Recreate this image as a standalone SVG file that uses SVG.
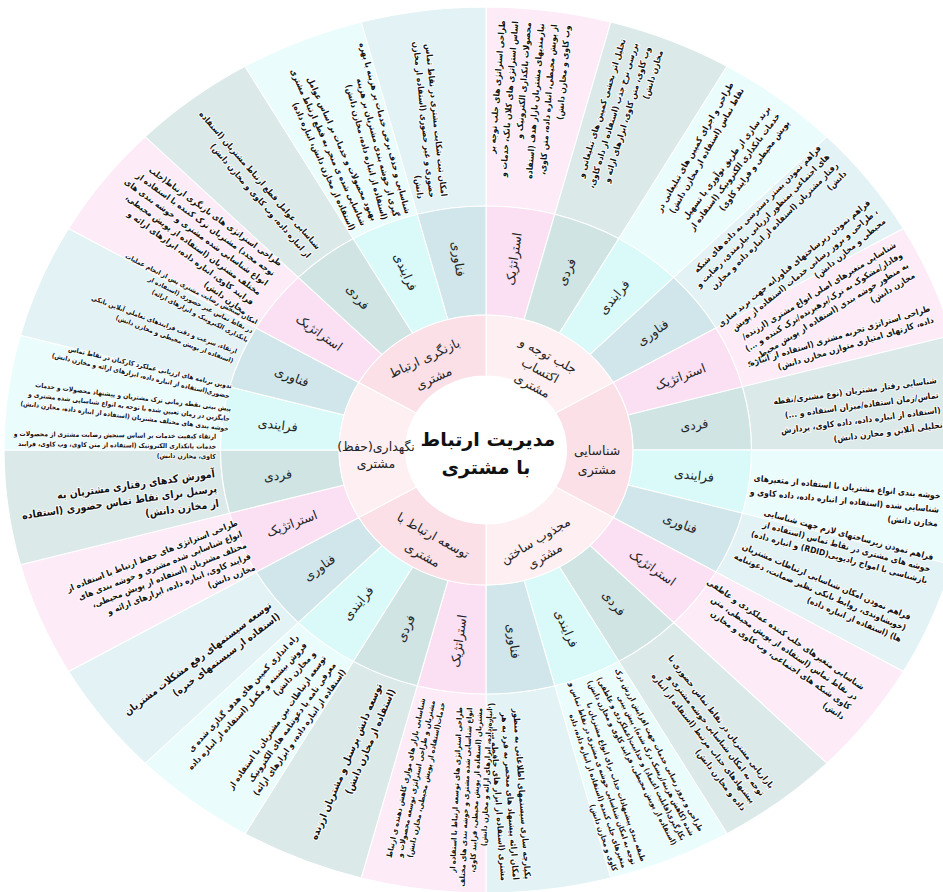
<svg xmlns="http://www.w3.org/2000/svg" xmlns:xlink="http://www.w3.org/1999/xlink" width="943" height="892" viewBox="0 0 943 892">
<style>
.o{font-family:"DejaVu Sans Condensed","DejaVu Sans",sans-serif;font-weight:bold;font-size:8.5px;fill:#111;stroke:#fff;stroke-width:1.8px;stroke-linejoin:round;paint-order:stroke;direction:rtl;text-anchor:start}
.s{font-size:7.5px}
.xs{font-size:6.7px;stroke-width:1.5px}
.m{font-size:10px}
.l{font-size:10.5px}
.r3{font-family:"DejaVu Sans",sans-serif;font-size:12.5px;fill:#222;direction:rtl;text-anchor:middle}
.r2{font-family:"DejaVu Sans",sans-serif;font-size:12.5px;fill:#222;direction:rtl;text-anchor:middle}
.ti{font-family:"DejaVu Sans",sans-serif;font-weight:bold;font-size:19px;fill:#111;direction:rtl;text-anchor:middle}
.w{stroke:#fff;stroke-width:1}
.oa{fill:#fdebf8}.ob{fill:#dce9e9}.oc{fill:#eafcfc}.od{fill:#e2f2f5}
.ra{fill:#fbe0f4}.rb{fill:#d1e4e4}.rc{fill:#dafafa}.rd{fill:#d0e6ea}
.pa{fill:#fbe1e7}.pb{fill:#fdeff2}
</style>
<defs>
<path id="ow" d="M0,-443 A443,443 0 0 1 114.658,-427.905 L63.152,-235.686 A244,244 0 0 0 0,-244 Z"/>
<path id="rw" d="M0,-244 A244,244 0 0 1 63.152,-235.686 L34.941,-130.4 A135,135 0 0 0 0,-135 Z"/>
<path id="pw" d="M0,-135 A135,135 0 0 1 116.913,-67.5 L64.086,-37 A74,74 0 0 0 0,-74 Z"/>
</defs>
<rect width="943" height="892" fill="#fff"/>
<g id="rings" transform="translate(486,450) scale(1.088,1)">
<g id="outer-ring" class="w">
<use xlink:href="#ow" class="oa" transform="rotate(0)"/><use xlink:href="#ow" class="ob" transform="rotate(15)"/><use xlink:href="#ow" class="oc" transform="rotate(30)"/><use xlink:href="#ow" class="od" transform="rotate(45)"/>
<use xlink:href="#ow" class="oa" transform="rotate(60)"/><use xlink:href="#ow" class="ob" transform="rotate(75)"/><use xlink:href="#ow" class="oc" transform="rotate(90)"/><use xlink:href="#ow" class="od" transform="rotate(105)"/>
<use xlink:href="#ow" class="oa" transform="rotate(120)"/><use xlink:href="#ow" class="ob" transform="rotate(135)"/><use xlink:href="#ow" class="oc" transform="rotate(150)"/><use xlink:href="#ow" class="od" transform="rotate(165)"/>
<use xlink:href="#ow" class="oa" transform="rotate(180)"/><use xlink:href="#ow" class="ob" transform="rotate(195)"/><use xlink:href="#ow" class="oc" transform="rotate(210)"/><use xlink:href="#ow" class="od" transform="rotate(225)"/>
<use xlink:href="#ow" class="oa" transform="rotate(240)"/><use xlink:href="#ow" class="ob" transform="rotate(255)"/><use xlink:href="#ow" class="oc" transform="rotate(270)"/><use xlink:href="#ow" class="od" transform="rotate(285)"/>
<use xlink:href="#ow" class="oa" transform="rotate(300)"/><use xlink:href="#ow" class="ob" transform="rotate(315)"/><use xlink:href="#ow" class="oc" transform="rotate(330)"/><use xlink:href="#ow" class="od" transform="rotate(345)"/>
</g>
<g id="ring3" class="w">
<use xlink:href="#rw" class="ra" transform="rotate(0)"/><use xlink:href="#rw" class="rb" transform="rotate(15)"/><use xlink:href="#rw" class="rc" transform="rotate(30)"/><use xlink:href="#rw" class="rd" transform="rotate(45)"/>
<use xlink:href="#rw" class="ra" transform="rotate(60)"/><use xlink:href="#rw" class="rb" transform="rotate(75)"/><use xlink:href="#rw" class="rc" transform="rotate(90)"/><use xlink:href="#rw" class="rd" transform="rotate(105)"/>
<use xlink:href="#rw" class="ra" transform="rotate(120)"/><use xlink:href="#rw" class="rb" transform="rotate(135)"/><use xlink:href="#rw" class="rc" transform="rotate(150)"/><use xlink:href="#rw" class="rd" transform="rotate(165)"/>
<use xlink:href="#rw" class="ra" transform="rotate(180)"/><use xlink:href="#rw" class="rb" transform="rotate(195)"/><use xlink:href="#rw" class="rc" transform="rotate(210)"/><use xlink:href="#rw" class="rd" transform="rotate(225)"/>
<use xlink:href="#rw" class="ra" transform="rotate(240)"/><use xlink:href="#rw" class="rb" transform="rotate(255)"/><use xlink:href="#rw" class="rc" transform="rotate(270)"/><use xlink:href="#rw" class="rd" transform="rotate(285)"/>
<use xlink:href="#rw" class="ra" transform="rotate(300)"/><use xlink:href="#rw" class="rb" transform="rotate(315)"/><use xlink:href="#rw" class="rc" transform="rotate(330)"/><use xlink:href="#rw" class="rd" transform="rotate(345)"/>
</g>
<g id="ring2" class="w">
<use xlink:href="#pw" class="pb" transform="rotate(0)"/><use xlink:href="#pw" class="pa" transform="rotate(60)"/><use xlink:href="#pw" class="pb" transform="rotate(120)"/>
<use xlink:href="#pw" class="pa" transform="rotate(180)"/><use xlink:href="#pw" class="pb" transform="rotate(240)"/><use xlink:href="#pw" class="pa" transform="rotate(300)"/>
</g>
<circle id="hub" r="74" fill="#fff"/>
</g>

<g id="title"><text class="ti" x="488" y="446">مدیریت ارتباط</text><text class="ti" x="486" y="474">با مشتری</text></g>

<g id="categories">
<g id="c-jalb" transform="translate(541,369) rotate(28)"><text class="r2" y="-11">جلب توجه و</text><text class="r2" y="6">اکتساب</text><text class="r2" y="23">مشتری</text></g>
<g id="c-shenasaei" transform="translate(597,460)"><text class="r2" y="-5">شناسایی</text><text class="r2" y="14">مشتری</text></g>
<g id="c-majzub" transform="translate(540,548) rotate(-31)"><text class="r2" y="-4.5">مجذوب ساختن</text><text class="r2" y="13.5">مشتری</text></g>
<g id="c-tose" transform="translate(428,545) rotate(29)"><text class="r2" y="-6.5">توسعه ارتباط با</text><text class="r2" y="15.5">مشتری</text></g>
<g id="c-negahdari" transform="translate(376,455)"><text class="r2" y="-4">نگهداری(حفظ)</text><text class="r2" y="13">مشتری</text></g>
<g id="c-baznegari" transform="translate(429,368) rotate(-25)"><text class="r2" y="-6.5">بازنگری ارتباط</text><text class="r2" y="15.5">مشتری</text></g>
</g>

<g id="ring3-labels">
<g transform="translate(486,450) rotate(8.2) translate(0,-193) rotate(-90)"><text class="r3" y="4.5">استراتژیک</text></g>
<g transform="translate(486,450) rotate(24.3) translate(0,-195.6) rotate(-90)"><text class="r3" y="4.5">فردی</text></g>
<g transform="translate(486,450) rotate(39.9) translate(0,-199.5) rotate(-90)"><text class="r3" y="4.5">فرایندی</text></g>
<g transform="translate(486,450) rotate(54.8) translate(0,-203.9) rotate(-90)"><text class="r3" y="4.5">فناوری</text></g>
<g transform="translate(486,450) rotate(69.3) translate(0,-207.6) rotate(-90)"><text class="r3" y="4.5">استراتژیک</text></g>
<g transform="translate(486,450) rotate(83.1) translate(0,-209.7) rotate(-90)"><text class="r3" y="4.5">فردی</text></g>
<g transform="translate(486,450) rotate(96.9) translate(0,-209.7) rotate(-90)"><text class="r3" y="4.5">فرایندی</text></g>
<g transform="translate(486,450) rotate(110.7) translate(0,-207.6) rotate(-90)"><text class="r3" y="4.5">فناوری</text></g>
<g transform="translate(486,450) rotate(125.2) translate(0,-203.9) rotate(-90)"><text class="r3" y="4.5">استراتژیک</text></g>
<g transform="translate(486,450) rotate(140.1) translate(0,-199.5) rotate(-90)"><text class="r3" y="4.5">فردی</text></g>
<g transform="translate(486,450) rotate(155.7) translate(0,-195.6) rotate(-90)"><text class="r3" y="4.5">فرایندی</text></g>
<g transform="translate(486,450) rotate(171.8) translate(0,-193) rotate(-90)"><text class="r3" y="4.5">فناوری</text></g>
<g transform="translate(486,450) rotate(188.2) translate(0,-193) rotate(90)"><text class="r3" y="4.5">استراتژیک</text></g>
<g transform="translate(486,450) rotate(204.3) translate(0,-195.6) rotate(90)"><text class="r3" y="4.5">فردی</text></g>
<g transform="translate(486,450) rotate(219.9) translate(0,-199.5) rotate(90)"><text class="r3" y="4.5">فرایندی</text></g>
<g transform="translate(486,450) rotate(234.8) translate(0,-203.9) rotate(90)"><text class="r3" y="4.5">فناوری</text></g>
<g transform="translate(486,450) rotate(249.3) translate(0,-207.6) rotate(90)"><text class="r3" y="4.5">استراتژیک</text></g>
<g transform="translate(486,450) rotate(263.1) translate(0,-209.7) rotate(90)"><text class="r3" y="4.5">فردی</text></g>
<g transform="translate(486,450) rotate(276.9) translate(0,-209.7) rotate(90)"><text class="r3" y="4.5">فرایندی</text></g>
<g transform="translate(486,450) rotate(290.7) translate(0,-207.6) rotate(90)"><text class="r3" y="4.5">فناوری</text></g>
<g transform="translate(486,450) rotate(305.2) translate(0,-203.9) rotate(90)"><text class="r3" y="4.5">استراتژیک</text></g>
<g transform="translate(486,450) rotate(320.1) translate(0,-199.5) rotate(90)"><text class="r3" y="4.5">فردی</text></g>
<g transform="translate(486,450) rotate(335.7) translate(0,-195.6) rotate(90)"><text class="r3" y="4.5">فرایندی</text></g>
<g transform="translate(486,450) rotate(351.8) translate(0,-193) rotate(90)"><text class="r3" y="4.5">فناوری</text></g>
</g>

<g id="outer-texts">
<g id="b1" transform="translate(486,450) rotate(6.5) translate(0,-430) rotate(-92)"><text class="o" y="-29.5">طراحی استراتژی های جلب توجه بر</text><text class="o" y="-16.5">اساس استراتژی های کلان بانک، خدمات و</text><text class="o" y="-3.5">محصولات بانکداری الکترونیک و</text><text class="o" y="9.5">نیازمندیهای مشتریان بازار هدف (استفاده</text><text class="o" y="22.5">از پویش محیطی، انباره داده، متن کاوی،</text><text class="o" y="35.5">وب کاوی و مخازن دانش)</text></g>
<g id="b2" transform="translate(486,450) rotate(21) translate(0,-434) rotate(-94)"><text class="o" y="-16.5">تحلیل اثر بخشی کمپین های تبلیغاتی و</text><text class="o" y="-3.5">بررسی نرخ جذب (استفاده از داده کاوی،</text><text class="o" y="9.5">وب کاوی، متن کاوی، ابزارهای ارائه و</text><text class="o" y="22.5">مخازن دانش)</text></g>
<g id="b3a" transform="translate(486,450) rotate(34.5) translate(0,-442) rotate(-95)"><text class="o" y="-3">طراحی و اجرای کمپین های تبلیغاتی در</text><text class="o" y="9">نقاط تماس (استفاده از مخازن دانش)</text></g>
<g id="b3b" transform="translate(486,450) rotate(41) translate(0,-445) rotate(-94)"><text class="o" y="-9">برند سازی از طریق نوآوری یا تسهیل</text><text class="o" y="3">خدمات بانکداری الکترونیک (استفاده از</text><text class="o" y="15">پویش محیطی و فرایند کاوی)</text></g>
<g id="b4a" transform="translate(486,450) rotate(50) translate(0,-452) rotate(-95)"><text class="o" y="-15">فراهم نمودن بستر دسترسی به داده های شبکه</text><text class="o" y="-3">های اجتماعی بمنظور ارزیابی نیازمندی، رضایت و</text><text class="o" y="9">رفتار مشتریان (استفاده از انباره داده و مخازن</text><text class="o" y="21">دانش)</text></g>
<g id="b4b" transform="translate(486,450) rotate(58.5) translate(0,-458) rotate(-98)"><text class="o" y="-9">فراهم نمودن زیرساختهای فناورانه جهت برند سازی</text><text class="o" y="3">، طراحی و بروز رسانی خدمات (استفاده از پویش</text><text class="o" y="15">محیطی و مخازن دانش)</text></g>
<g id="b5a" transform="translate(486,450) rotate(65.5) translate(0,-460) rotate(-97)"><text class="o" y="-15">شناسایی متغیرهای اصلی انواع مشتری (ارزنده/</text><text class="o" y="-3">وفادار/مشکوک به ترک/پرهیزنده/ترک کننده و ...)</text><text class="o" y="9">به منظور خوشه بندی (استفاده از پویش محیطی و</text><text class="o" y="21">مخازن دانش)</text></g>
<g id="b5b" transform="translate(486,450) rotate(73) translate(0,-466) rotate(-90)"><text class="o" y="-3">طراحی استراتژی تجربه مشتری (استفاده از انباره</text><text class="o" y="9">داده، کارتهای امتیازی متوازن مخازن دانش)</text></g>
<g id="b6" transform="translate(486,450) rotate(84) translate(0,-456) rotate(-91.5)"><text class="o" y="-19.5">شناسایی رفتار مشتریان (نوع مشتری/نقطه</text><text class="o" y="-4.5">تماس/زمان استفاده/میزان استفاده و ...)</text><text class="o" y="10.5">(استفاده از انباره داده، داده کاوی، پردازش</text><text class="o" y="25.5">تحلیلی آنلاین و مخازن دانش)</text></g>
<g id="b7" transform="translate(486,450) rotate(97.5) translate(0,-457) rotate(-92)"><text class="o" y="-11">خوشه بندی انواع مشتریان با استفاده از متغیرهای</text><text class="o" y="3">شناسایی شده (استفاده از انباره داده، داده کاوی و</text><text class="o" y="17">مخازن دانش)</text></g>
<g id="b8" transform="translate(486,450) rotate(105) translate(0,-460) rotate(-90)"><text class="o" y="-9">فراهم نمودن زیرساختهای لازم جهت شناسایی</text><text class="o" y="3">خوشه های مشتری در نقاط تماس (استفاده از</text><text class="o" y="15">بازشناسی با امواج رادیویی(RDID) و انباره داده)</text></g>
<g id="b9a" transform="translate(486,450) rotate(113) translate(0,-456) rotate(-90)"><text class="o" y="-9">فراهم نمودن امکان شناسایی ارتباطات مشتریان</text><text class="o" y="3">(خویشاوندی، روابط بانکی نظیر ضمانت، دعوتنامه</text><text class="o" y="15">ها) (استفاده از انباره داده)</text></g>
<g id="b9b" transform="translate(486,450) rotate(124.5) translate(0,-446) rotate(-90)"><text class="o" y="-15">شناسایی متغیرهای جلب کننده عملکردی و عاطفی</text><text class="o" y="-3">در نقاط تماس (استفاده از پویش محیطی، متن</text><text class="o" y="9">کاوی شبکه های اجتماعی، وب کاوی و مخازن</text><text class="o" y="21">دانش)</text></g>
<g id="b10" transform="translate(486,450) rotate(142) translate(0,-442) rotate(-90)"><text class="o" y="-15">بازاریابی مشتریان در نقاط تماس حضوری با</text><text class="o" y="-3">توجه به امکان شناسایی خوشه مشتری و</text><text class="o" y="9">پیشنهادهای جذاب مرتبط (استفاده از انباره</text><text class="o" y="21">داده و مخازن دانش)</text></g>
<g id="b11a" transform="translate(486,450) rotate(152.5) translate(0,-437) rotate(-90)"><text class="o s" y="-12.5">طراحی و بروز رسانی خدمات جهت افزایش ارزش درک</text><text class="o s" y="-2.5">شده (کاهش هزینه/ریسک درک شده)، پیش بینی</text><text class="o s" y="7.5">بکارگیری(قابلیت اعتماد) و جذابیت(عملکردی و عاطفی)</text><text class="o s" y="17.5">(استفاده از پویش محیطی، فرایند کاوی و مخازن دانش)</text></g>
<g id="b11b" transform="translate(486,450) rotate(161) translate(0,-440) rotate(-90)"><text class="o s" y="-12.5">طبقه بندی پیشنهادات جذاب برای انواع مشتریان با</text><text class="o s" y="-2.5">توجه به امکان شناسایی خوشه ی مشتری در نقاط تماس و</text><text class="o s" y="7.5">متغیرهای جلب کننده (استفاده از انباره داده، داده</text><text class="o s" y="17.5">کاوی و مخازن دانش)</text></g>
<g id="b12" transform="translate(486,450) rotate(176) translate(0,-431) rotate(-90)"><text class="o" y="-9">یکپارچه سازی سیستمهای اطلاعاتی به منظور</text><text class="o" y="3">امکان ارائه پیشنهاد های منحصر به فرد به هر</text><text class="o" y="15">مشتری (استفاده از ابزار های حافظه سازمانی)</text></g>
<g id="b13b" transform="translate(486,450) rotate(182.5) translate(0,-258) rotate(90)"><text class="o s" y="-12.5">طراحی استراتژی های توسعه ارتباط با استفاده از</text><text class="o s" y="-2.5">انواع شناسایی شده مشتری و خوشه بندی های مختلف</text><text class="o s" y="7.5">مشتریان (استفاده از پویش محیطی، فرایند کاوی،</text><text class="o s" y="17.5">انباره داده، ابزارهای ارائه و مخازن دانش)</text></g>
<g id="b13a" transform="translate(486,450) rotate(192) translate(0,-256) rotate(90)"><text class="o s" y="-7.5">شناسایی بازار های موازی کاهش دهنده ی ارتباط</text><text class="o s" y="2.5">مشتریان و طراحی استراتژی توسعه محصولات و</text><text class="o s" y="12.5">خدمات(استفاده از پویش محیطی، مخازن دانش)</text></g>
<g id="b14" transform="translate(486,450) rotate(203) translate(0,-257) rotate(90)"><text class="o m" y="-3.5">توسعه دانش پرسنل و مشتریان ارزنده</text><text class="o m" y="10.5">(استفاده از مخازن دانش)</text></g>
<g id="b15b" transform="translate(486,450) rotate(215.5) translate(0,-262) rotate(90)"><text class="o" y="-9">توسعه ارتباطات بین مشتریان با استفاده از</text><text class="o" y="3">معرفی نامه یا دعوتنامه های الکترونیک</text><text class="o" y="15">(استفاده از انباره داده، و ابزارهای ارائه)</text></g>
<g id="b15a" transform="translate(486,450) rotate(223) translate(0,-265) rotate(90)"><text class="o" y="-9">راه اندازی کمپین های هدف گذاری شده ی</text><text class="o" y="3">فروش بیشینه و مکمل (استفاده از انباره داده</text><text class="o" y="15">و مخازن دانش)</text></g>
<g id="b16" transform="translate(486,450) rotate(233) translate(0,-265) rotate(90)"><text class="o m" y="-3.5">توسعه سیستمهای رفع مشکلات مشتریان</text><text class="o m" y="10.5">(استفاده از سیستمهای خبره)</text></g>
<g id="b17" transform="translate(486,450) rotate(248.5) translate(0,-258) rotate(90)"><text class="o" y="-21">طراحی استراتژی های حفظ ارتباط با استفاده از</text><text class="o" y="-9">انواع شناسایی شده مشتری و خوشه بندی های</text><text class="o" y="3">مختلف مشتریان (استفاده از پویش محیطی،</text><text class="o" y="15">فرایند کاوی، انباره داده، ابزارهای ارائه و</text><text class="o" y="27">مخازن دانش)</text></g>
<g id="b18" transform="translate(486,450) rotate(262) translate(0,-272) rotate(90)"><text class="o l" y="-11">آموزش کدهای رفتاری مشتریان به</text><text class="o l" y="4">پرسنل برای نقاط تماس حضوری (استفاده</text><text class="o l" y="19">از مخازن دانش)</text></g>
<g id="b19a" transform="translate(486,450) rotate(270.8) translate(0,-270) rotate(90)"><text class="o xs" y="-7.5">ارتقاء کیفیت خدمات بر اساس سنجش رضایت مشتری از محصولات و</text><text class="o xs" y="2.5">خدمات بانکداری الکترونیک (استفاده از متن کاوی، وب کاوی، فرایند</text><text class="o xs" y="12.5">کاوی، مخازن دانش)</text></g>
<g id="b19b" transform="translate(486,450) rotate(277) translate(0,-258) rotate(90)"><text class="o xs" y="-7.5">پیش بینی نقطه زمانی ترک مشتریان و پیشنهاد محصولات و خدمات</text><text class="o xs" y="2.5">جایگزین در زمان تعیین شده با توجه به انواع شناسایی شده مشتری و</text><text class="o xs" y="12.5">خوشه بندی های مختلف مشتریان (استفاده از انباره داده، مخازن دانش)</text></g>
<g id="b19c" transform="translate(486,450) rotate(283) translate(0,-262) rotate(90)"><text class="o xs" y="-2.5">تدوین برنامه های ارزیابی عملکرد کارکنان در نقاط تماس</text><text class="o xs" y="7.5">حضوری(استفاده از انباره داده، ابزارهای ارائه و مخازن دانش)</text></g>
<g id="b20c" transform="translate(486,450) rotate(290.5) translate(0,-268) rotate(90)"><text class="o xs" y="-2.5">ارتقاء، سرعت و دقت فرایندهای تعاملی آنلاین بانکی</text><text class="o xs" y="7.5">(استفاده از پویش محیطی و مخازن دانش)</text></g>
<g id="b20b" transform="translate(486,450) rotate(297) translate(0,-262) rotate(90)"><text class="o xs" y="-7.5">امکان سنجش رضایت مشتری پس از انجام عملیات</text><text class="o xs" y="2.5">در نقاط تماس غیر حضوری (استفاده از</text><text class="o xs" y="12.5">بانکداری الکترونیک و ابزارهای ارائه)</text></g>
<g id="b21" transform="translate(486,450) rotate(306) translate(0,-275) rotate(90)"><text class="o" y="-27">طراحی استراتژی های بازنگری ارتباط(جلب</text><text class="o" y="-15">توجه مجدد) مشتریان ترک کننده با استفاده از</text><text class="o" y="-3">انواع شناسایی شده مشتری و خوشه بندی های</text><text class="o" y="9">مختلف مشتریان (استفاده از پویش محیطی،</text><text class="o" y="21">فرایند کاوی، انباره داده، ابزارهای ارائه و</text><text class="o" y="33">مخازن دانش)</text></g>
<g id="b22" transform="translate(486,450) rotate(319) translate(0,-262) rotate(90)"><text class="o" y="-3.5">شناسایی عوامل قطع ارتباط مشتریان (استفاده</text><text class="o" y="9.5">از انباره داده، وب کاوی و مخازن دانش)</text></g>
<g id="b23b" transform="translate(486,450) rotate(331.5) translate(0,-256) rotate(94)"><text class="o" y="-9">بهبود محصولات و خدمات بر اساس عوامل</text><text class="o" y="3">شناسایی شده ی منجر به قطع ارتباط مشتری</text><text class="o" y="15">(استفاده از مخازن دانش، انباره داده)</text></g>
<g id="b23a" transform="translate(486,450) rotate(339) translate(0,-250) rotate(96)"><text class="o" y="-9">شناسایی و حذف برخی خدمات پر هزینه با بهره</text><text class="o" y="3">گیری از خوشه بندی مشتریان بر هزینه</text><text class="o" y="15">(استفاده از انباره داده، مخازن دانش)</text></g>
<g id="b24" transform="translate(486,450) rotate(348) translate(0,-258) rotate(96)"><text class="o" y="-9">امکان ثبت شکایت مشتری در نقاط تماس</text><text class="o" y="3">حضوری و غیر حضوری (استفاده از مخازن</text><text class="o" y="15">دانش)</text></g>
</g>
</svg>
